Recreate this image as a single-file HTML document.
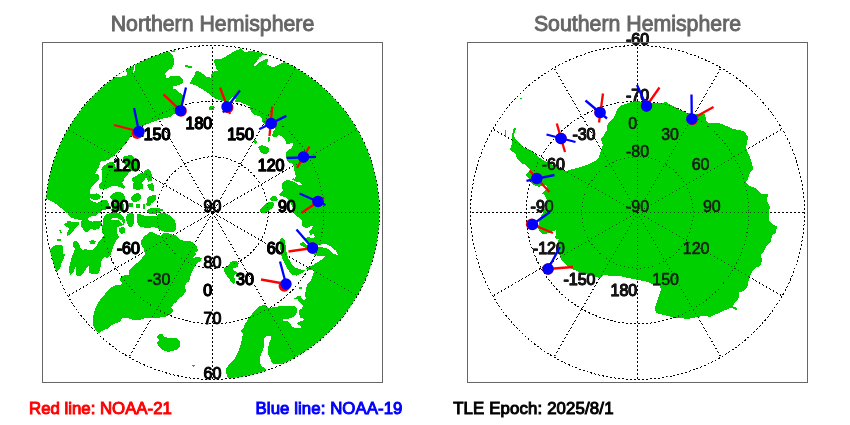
<!DOCTYPE html>
<html><head><meta charset="utf-8"><title>Satellite polar crossings</title>
<style>
html,body{margin:0;padding:0;background:#fff;}
body{width:850px;height:425px;overflow:hidden;font-family:"Liberation Sans",sans-serif;}
svg{display:block;position:absolute;left:0;top:0;}
svg text{font-family:"Liberation Sans",sans-serif;}
.title{font-size:21.3px;fill:#666;stroke:#666;stroke-width:0.9px;text-anchor:middle;}
.lab text{font-size:16px;fill:#000;stroke:#000;stroke-width:1.1px;stroke-linejoin:round;}
.grat2{fill:none;stroke:#000;stroke-opacity:0.6;stroke-width:1;stroke-dasharray:1 3;shape-rendering:crispEdges;}
.lab2 text{font-size:16px;fill:#181818;stroke:#181818;stroke-width:0.55px;}
.grat{fill:none;stroke:#000;stroke-width:1;stroke-dasharray:2 2;shape-rendering:crispEdges;}
.foot{font-size:16.8px;stroke-width:1px;}
</style></head><body>
<svg width="850" height="425" viewBox="0 0 850 425">
<defs>
<clipPath id="cn"><circle cx="212.5" cy="212.5" r="167"/></clipPath>
<clipPath id="cs"><circle cx="637.5" cy="212.5" r="167"/></clipPath>
</defs>
<rect x="0" y="0" width="850" height="425" fill="#fff"/>
<text class="title" x="212.5" y="30.6">Northern Hemisphere</text>
<text class="title" x="637.5" y="30.6">Southern Hemisphere</text>
<g class="grat">
<circle cx="212.5" cy="212.5" r="55.6667"/>
<circle cx="212.5" cy="212.5" r="111.333"/>
<circle cx="212.5" cy="212.5" r="167"/>
<line x1="212.50" y1="212.50" x2="212.50" y2="45.50"/>
<line x1="212.50" y1="212.50" x2="296.00" y2="67.87"/>
<line x1="212.50" y1="212.50" x2="357.13" y2="129.00"/>
<line x1="212.50" y1="212.50" x2="379.50" y2="212.50"/>
<line x1="212.50" y1="212.50" x2="357.13" y2="296.00"/>
<line x1="212.50" y1="212.50" x2="296.00" y2="357.13"/>
<line x1="212.50" y1="212.50" x2="212.50" y2="379.50"/>
<line x1="212.50" y1="212.50" x2="129.00" y2="357.13"/>
<line x1="212.50" y1="212.50" x2="67.87" y2="296.00"/>
<line x1="212.50" y1="212.50" x2="45.50" y2="212.50"/>
<line x1="212.50" y1="212.50" x2="67.87" y2="129.00"/>
<line x1="212.50" y1="212.50" x2="129.00" y2="67.87"/>
<circle cx="637.5" cy="212.5" r="55.6667"/>
<circle cx="637.5" cy="212.5" r="111.333"/>
<circle cx="637.5" cy="212.5" r="167"/>
<line x1="637.50" y1="212.50" x2="637.50" y2="45.50"/>
<line x1="637.50" y1="212.50" x2="721.00" y2="67.87"/>
<line x1="637.50" y1="212.50" x2="782.13" y2="129.00"/>
<line x1="637.50" y1="212.50" x2="804.50" y2="212.50"/>
<line x1="637.50" y1="212.50" x2="782.13" y2="296.00"/>
<line x1="637.50" y1="212.50" x2="721.00" y2="357.13"/>
<line x1="637.50" y1="212.50" x2="637.50" y2="379.50"/>
<line x1="637.50" y1="212.50" x2="554.00" y2="357.13"/>
<line x1="637.50" y1="212.50" x2="492.87" y2="296.00"/>
<line x1="637.50" y1="212.50" x2="470.50" y2="212.50"/>
<line x1="637.50" y1="212.50" x2="492.87" y2="129.00"/>
<line x1="637.50" y1="212.50" x2="554.00" y2="67.87"/>
</g>
<g class="lab">
<text text-anchor="end" x="170.4" y="139.9">-150</text>
<text text-anchor="end" x="139.9" y="170.5">-120</text>
<text text-anchor="end" x="128.7" y="212.2">-90</text>
<text text-anchor="end" x="139.9" y="253.9">-60</text>
<text text-anchor="end" x="170.4" y="284.5">-30</text>
<text text-anchor="end" x="212.2" y="295.7">0</text>
<text text-anchor="end" x="253.9" y="284.5">30</text>
<text text-anchor="end" x="284.5" y="253.9">60</text>
<text text-anchor="end" x="295.7" y="212.2">90</text>
<text text-anchor="end" x="284.5" y="170.5">120</text>
<text text-anchor="end" x="253.9" y="139.9">150</text>
<text text-anchor="end" x="212.2" y="128.7">180</text><text text-anchor="middle" x="212.5" y="212.2">90</text>
<text text-anchor="middle" x="212.5" y="267.9">80</text>
<text text-anchor="middle" x="212.5" y="323.5">70</text>
<text text-anchor="middle" x="212.5" y="379.2">60</text>
<text text-anchor="end" x="595.5" y="284.5">-150</text>
<text text-anchor="end" x="564.9" y="253.9">-120</text>
<text text-anchor="end" x="553.7" y="212.2">-90</text>
<text text-anchor="end" x="564.9" y="170.4">-60</text>
<text text-anchor="end" x="595.5" y="139.9">-30</text>
<text text-anchor="end" x="637.2" y="128.7">0</text>
<text text-anchor="end" x="679.0" y="139.9">30</text>
<text text-anchor="end" x="709.5" y="170.4">60</text>
<text text-anchor="end" x="720.7" y="212.2">90</text>
<text text-anchor="end" x="709.5" y="253.9">120</text>
<text text-anchor="end" x="679.0" y="284.5">150</text>
<text text-anchor="end" x="637.2" y="295.7">180</text><text text-anchor="middle" x="637.5" y="212.2">-90</text>
<text text-anchor="middle" x="637.5" y="156.5">-80</text>
<text text-anchor="middle" x="637.5" y="100.9">-70</text>
<text text-anchor="middle" x="637.5" y="45.2">-60</text>
</g>
<g clip-path="url(#cn)" shape-rendering="crispEdges"><path fill="#00d000" d="M150 20 L169 51 L169 52 L173 56 L174 60 L173.5 65 L172 68.5 L169 69.5 L166.5 72 L165 74 L166.5 77.5 L167.5 78.5 L170 76.5 L175 75.5 L179 75.5 L181 78 L183.5 79.5 L183 82 L182 84 L177 85.5 L172.5 86.5 L173 88.5 L176 89.5 L178 92 L181 93.5 L183 95 L184 98 L183.5 102 L182 105 L183 109 L181 113 L177 113 L172 115 L170 117 L165 118 L160 119.5 L155 121 L150 123 L145 125 L142 126 L138 129 L135 132 L132 135 L129 139 L126 143 L123 146 L120 149.5 L117 152.5 L115 154 L112 157 L108 160 L104 161 L101 160.5 L100 164 L98.5 168 L96 171.5 L95 174 L98 174 L99.5 176.5 L99 180 L96 182 L93 185 L91 188 L90 190 L90.5 194.2 L94 194.2 L96.8 193.2 L99 194.2 L101 196.4 L99.6 198.5 L96.8 199.9 L94.7 200.6 L92.6 199.2 L90.5 198.1 L89 198.8 L91.2 200.6 L94 202.4 L98.2 202.7 L101 200.6 L103.9 199.5 L107.4 200.6 L108.5 203.4 L109.5 204.1 L108.1 207.6 L105.3 209.8 L102 210.5 L100.9 211.7 L98.1 213.5 L96 215.6 L93.2 216.3 L89.6 216.6 L88.2 218.5 L88.2 220.2 L91.8 221.6 L96.7 221.2 L100.9 220.9 L101.6 223.3 L100.2 226.9 L98.1 229 L94.6 229.7 L90.3 229.3 L88.2 231.5 L85.4 231.8 L83.3 229.7 L81.2 226.2 L80.5 223.3 L81.2 221.2 L82.5 219.5 L80.5 220.2 L76.2 219.1 L72 218 L69.2 216.3 L67.8 213.5 L64.2 211 L61 208 L57 204.5 L52 201.5 L46 198.5 L30 196 L20 100Z M124 156 L131 155 L133.5 157.5 L135 160 L138 163 L139.5 167 L138.5 170 L135 171 L131 170.5 L128 168 L125.5 165 L123 162 L123 158.5Z M102.5 166.5 L109 162.5 L114 162 L115 166 L118 170 L125 171.5 L129 171.5 L128 175 L125 177 L124 180 L122 182 L123 184 L125 187 L124 189 L120 187 L115 186 L111 186.5 L107 188.5 L104 189.5 L100 188.5 L98.5 186 L100 183 L102 181 L101.5 177 L102 173 L101.5 169.5Z M132.5 177.9 L132 179.9 L132.1 180.4 L133.9 182.1 L132.6 184.8 L132.5 185.1 L133.5 188.6 L133.9 189 L137.9 190 L138.1 190 L143.1 188.5 L143.4 188.3 L143.5 187.9 L143 185.4 L143 185.3 L141.6 182.2 L144.3 180.4 L144.4 180.2 L145.9 177.2 L145.9 176.7 L143.4 173.2 L142.9 173 L139.9 173.5 L139.7 173.6 L135.8 176.1 L132.8 177.6Z M143.5 172.2 L144.5 175.2 L144.6 175.3 L146.1 177.8 L148.1 181.2 L148.3 181.5 L148.6 181.5 L151.1 181 L151.4 180.8 L151.5 180.6 L152 176.1 L152 175.9 L151 171.9 L150.9 171.6 L148.4 169.1 L148.1 169 L147.7 169.1 L143.7 171.6 L143.5 171.8Z M147.1 185.7 L149.1 189.7 L149.4 190 L152.9 191 L153.2 190.9 L153.5 190.6 L154.5 187.1 L154.4 186.8 L152.4 183.3 L152.2 183 L151.8 183 L147.3 185 L147 185.3Z M130.6 198.3 L132.6 201.3 L133 201.5 L137 201.5 L137.3 201.4 L140.3 199.4 L140.5 199.1 L141 195.6 L140.8 195.1 L138.3 193.1 L137.8 193 L133.8 194.5 L133.6 194.6 L130.6 197.6 L130.5 198Z M146.5 199 L146.5 202.5 L146.6 202.8 L146.9 203 L150.9 203.5 L151.3 203.4 L154.3 201.4 L154.4 201.3 L156.4 198.3 L156.5 197.8 L155.5 195.3 L155.2 195.1 L154.9 195 L149.9 196 L149.7 196.1 L146.7 198.6Z M128.6 203.6 L129.1 206.6 L129.2 206.8 L129.5 206.9 L132.5 206.9 L132.8 206.8 L132.9 206.5 L132.9 203.5 L132.8 203.2 L132.5 203.1 L129 203.1 L128.7 203.2Z M136.1 204.5 L136.1 208 L136.2 208.3 L136.5 208.4 L139 208.4 L139.2 208.3 L139.4 208.1 L140.4 204.6 L140.3 204.3 L140 204.1 L136.5 204.1 L136.2 204.2Z M142.6 204 L142.6 208.5 L142.7 208.8 L143 208.9 L145 208.9 L145.3 208.8 L145.4 208.5 L145.4 204 L145.3 203.7 L145 203.6 L143 203.6 L142.7 203.7Z M146.1 203.1 L146.6 205.6 L146.7 205.8 L147 205.9 L150 205.9 L150.2 205.8 L150.4 205.6 L151.4 203.1 L151.3 202.8 L151 202.6 L146.5 202.6 L146.2 202.7Z M110.1 197.2 L111.5 199.2 L111.6 199.4 L114.4 200.9 L114.5 200.9 L118.1 201.6 L118.2 201.6 L121.7 201.6 L121.8 201.6 L124.6 200.9 L124.8 200.8 L124.9 200.5 L125.3 197 L125.2 196.8 L123.4 193.9 L123.3 193.8 L120.5 192.1 L120.3 192 L116.8 191.6 L116.6 191.7 L113 193.8 L112.9 193.8 L110.1 196.7 L110 197Z M111.6 204 L111.6 208 L111.7 208.3 L114.7 210.8 L115 210.9 L120 211.4 L120.2 211.4 L124.2 209.4 L124.4 209 L124.4 205 L124.2 204.7 L121.2 202.7 L121 202.6 L116 202.1 L115.9 202.1 L111.9 203.6 L111.7 203.8Z M126.6 215 L126.1 219 L126.1 219.1 L127.1 223.1 L127.1 223.2 L128.6 226.7 L128.8 226.8 L129.1 226.9 L132.6 226.4 L132.9 226.1 L133.9 223.1 L133.9 223 L134.4 218 L134.4 217.9 L133.4 213.9 L133.1 213.6 L130.1 212.6 L129.8 212.7 L126.8 214.7Z M147 210 L150 208.5 L155 208 L160 208.5 L164 210 L160 211.5 L157 213.5 L153 214.5 L149 213.5 L147 212Z M161 213 L166 213.5 L171 216 L174.5 220 L176 225 L176 229 L174 232 L170 232.5 L165 232 L161 230.5 L157 228 L153 227 L149 228 L144 227.5 L140 227 L138 224 L136.5 220 L136.5 216 L138 213.5 L142 215 L146 216 L152 216 L156 216.5 L158 214Z M102.3 226.2 L103 221.2 L103.8 217 L106.6 214.2 L110.8 212.8 L116.5 212.4 L120 213.5 L124 217 L125 221 L124 225 L120 226 L117 227 L116.5 229 L117 233 L119 237 L116 241 L114 245 L112 250 L111 254 L110 255 L108 258 L104 257 L102 259 L101 264 L100 270 L98 274 L94 274.5 L89 273 L88.5 270 L89 265 L86 269 L83 274 L79 276.5 L76 275 L76 270 L76.5 265 L75 268 L73 273 L70.5 275 L69 272 L69.5 266 L71 260 L73 254 L75 249 L73 246 L73 242 L76 240.5 L79 243 L80 247 L82 250 L86 249 L90 250.5 L94 249 L97 245 L99 241 L102 238 L104 235 L101.6 231.1Z M118.7 229 L119.2 232 L119.3 232.3 L121.8 233.8 L122.1 233.8 L125.1 232.3 L125.3 232 L125.3 228.5 L125.1 228.2 L122.1 226.7 L121.8 226.8 L118.8 228.8Z M64.2 224 L67 222.6 L66.4 219.8 L68.5 221.2 L72 221.6 L76.2 221.6 L79.8 222.6 L78.3 225.5 L75.5 227.6 L73.4 231.1 L70.6 233.9 L67 236 L67.5 231.8 L69.2 228.3 L66.4 226.9 L64.6 225.5Z M58.5 229.5 L60.5 230 L62.5 233 L60.5 232.5Z M57 239.5 L61 239 L60.5 240.8 L57.5 241Z M89 241.5 L92 240 L96 241 L95 244 L91 244.5Z M40 249 L50 249 L53 246 L58 244.5 L62 245 L63.5 248 L63 254 L65 254 L64 258 L61.5 263 L60.5 267 L60 269 L57 271 L50 273 L40 273Z M141 241 L144 236.5 L149 232.5 L152 232 L157 234.5 L161 236 L162.5 233.5 L167 233 L172 234.5 L176 235.5 L179 239 L183 240.5 L189 240.5 L194 243 L197 247 L198 251 L195 252 L196 254 L193 258 L197 257 L202 258 L201 261 L197 263 L195 266 L193 270 L191 274 L190 279 L188.5 282 L186 283 L185 287 L186 291 L184 294 L183 296 L180 297 L177 301 L176 303.5 L174 303 L173 306 L171 307.5 L172.5 309.5 L173 312 L170 314.5 L166 316.5 L160 317.5 L153 317.5 L146 317.5 L141 319.5 L137 320 L133 320 L128 318 L123 317.5 L121 320 L119 322 L114 324 L111 325.5 L109 328 L103 330.5 L99 333 L96 331 L93 325 L93 317 L95 309 L98 303 L102 297 L104 296 L106 292 L110 288 L115 285.5 L120 285 L122 283 L120 280 L121 277 L125 275 L127 275.5 L129.5 274 L128.5 270.5 L132 267 L137 263 L142 258 L145 254 L144 249 L141.5 245Z M156 337 L159 334 L163 334 L164 337 L170 338 L176 338 L180 342 L180 347 L176 350 L168 352 L162 350 L158 346 L157 342 L160 340Z M192 365.5 L194 364.5 L195 366 L193 367Z M184 66 L186 65 L189 66 L192 65.5 L191.5 67.5 L188 67.5 L185.5 67Z M171 51.5 L174 50.2 L176 50.8 L174 52.5Z M208.6 108.7 L209.1 109.7 L209.3 110 L210.8 110.5 L211.1 110.5 L213.6 110 L213.9 109.7 L214.9 107.7 L215 107.4 L214.8 107.1 L213.3 106.1 L212.9 106 L210.4 106.5 L210.1 106.6 L208.6 108.1 L208.5 108.4Z M267.5 137.5 L269.5 137 L270.5 140 L269 142 L267.5 141Z M253.5 140 L255.5 139.5 L257 142 L256 144 L254 142.5Z M258.2 147.1 L259.2 150.1 L259.3 150.2 L261.3 152.7 L261.4 152.8 L264.4 154.3 L264.6 154.3 L268.1 153.3 L268.3 153.1 L269.3 150.1 L269.3 149.8 L267.8 147.3 L267.6 147.2 L264.6 145.7 L264.5 145.7 L261.5 145.2 L261.4 145.2 L258.4 146.7 L258.2 146.9Z M270.2 198.1 L270.7 200.6 L270.8 200.7 L271 200.8 L274.5 201.3 L274.6 201.3 L277.6 200.3 L277.8 200.1 L277.8 199.9 L276.8 196.9 L276.6 196.7 L273.6 195.7 L273.3 195.8 L270.3 197.8 L270.2 197.9Z M262.3 206.8 L259.3 210.8 L259.2 211 L259.3 211.2 L261.8 213.2 L262 213.3 L266 212.8 L266.2 212.7 L269.2 210.2 L272.7 207.7 L272.8 207.6 L274.3 204.1 L274.3 203.9 L274.2 203.8 L272.2 201.8 L271.9 201.7 L266.9 202.7 L266.8 202.8 L262.3 206.8Z M223.3 268.9 L224.7 272.4 L224.7 272.4 L226.8 275.6 L226.8 275.6 L231 281.2 L231 281.2 L233.1 283.7 L233.4 283.8 L234.9 283.4 L235 283.3 L235 283.2 L234.6 279 L234.3 275.6 L235.6 274.2 L237 273.2 L237.1 273 L237 272.9 L235.6 271.5 L235.6 271.4 L233.5 270.1 L232.9 268.3 L235.5 267.9 L235.6 267.9 L237.7 266.5 L237.8 266.3 L238.5 263.5 L238.5 263.4 L237.1 261.3 L236.9 261.2 L233.3 261.2 L233.2 261.2 L230.4 262.2 L230.3 262.3 L228.9 264.8 L226.2 266.8 L223.4 268.6 L223.3 268.7Z M237.2 275.1 L239.3 274.1 L240.8 275.5 L239 277.6 L237.6 277.2Z M281 238.2 L279.5 240.7 L279.4 241.1 L279.9 246.1 L279.9 246.1 L280.9 253.1 L280.9 253.1 L282.4 259.1 L282.5 259.3 L285.5 265.3 L285.5 265.3 L288.5 270.3 L288.5 270.4 L291.5 274.4 L291.9 274.6 L296.9 275.6 L297.3 275.5 L301.3 273.5 L301.4 273.5 L304.4 271 L304.6 270.6 L304.5 270.1 L304.1 269.9 L300.2 269.4 L295.3 267.5 L291.5 263.6 L288.5 258.7 L286.6 252.9 L285.6 245.9 L285.6 245.9 L284.6 239.9 L284.3 239.5 L281.8 238 L281.4 237.9Z M298.5 287 L301 286.5 L302 288.5 L300.5 289.5 L299 288.5Z M189.5 84 L191 80.5 L193.5 77 L195 74 L196 70.5 L199 71.5 L203 74 L206 76.5 L209 77 L210.5 78.5 L212 72 L216 71 L218.5 71.5 L216.5 69 L215 65 L214 61 L215 58.5 L219 59.5 L223 58 L229 54.5 L235 51 L239 49.5 L240.5 47.5 L242 50 L245 52 L250 51 L255 51.5 L259 52 L264 53.5 L266.5 54.5 L263 55 L259.5 57.5 L257 61 L254.5 64.5 L253.5 66 L256 65.5 L259 62.5 L263 60.5 L267.5 58.5 L268 60.5 L266.5 64.5 L269.5 66 L273 67 L276 66 L280 64 L284 62 L287 61 L300 40 L400 40 L400 390 L281 390 L281 364 L278 364.5 L274 364 L271.5 362 L270 358 L268 354 L268 349 L269 344 L270 341 L271.5 338 L270 335.5 L267 335.5 L264 338 L264 342 L264.5 345 L263 350 L261 354 L259.5 359 L260 363 L262 366.5 L266 369 L266 390 L229 390 L229.5 378.5 L227 376.5 L226 372 L226.5 368 L229 364.5 L233 361 L235.5 357.5 L237 354 L239 350 L241 344 L242 339 L243 333 L240.5 332 L242 329 L244 327 L245 324 L247 321 L249 317 L252 314 L255 310 L258 307 L262 305.5 L265 305 L267.5 306.5 L269 308.5 L274 307 L282 306 L290 306 L295 306.5 L297.5 309 L297 312 L296 315 L293 317 L289 318.5 L285 319 L281.5 320 L284 321 L288 321.5 L290 323.5 L292 326.5 L295 328 L300 328 L301.5 326.5 L299 325 L296 324 L298 322 L302 321 L304 319 L300.5 317.5 L299 314 L299.5 310 L302 308.5 L303 306 L301 304 L298 301 L298 299.5 L294.5 298.5 L298 296 L301 296.5 L302 299 L304.5 300 L306.5 298.5 L305 296 L305.5 292 L306.5 287 L308 283 L309 282 L311 280 L312 277.5 L313 274.5 L314 272 L312 270 L308 270 L306 268.5 L309 267 L313 265 L318 262 L322 259.5 L325 257 L324 255.5 L320 256.5 L315 255 L311 253 L308 250 L304 247 L301 246 L300 243 L303 242 L307 245 L309 243 L307 241 L305 238 L308 237 L312 238 L315 237 L314 234 L310.5 235 L309 232 L311 229.5 L313 226.5 L311 226 L307 228 L303 227 L301.5 224 L302 221 L300 218 L296 216 L293 213 L294 210 L292 206 L290 202 L288 199 L285 197 L281 196 L279 194.5 L281.5 192 L283 190 L281.5 188 L281.5 184 L284 181 L288 180 L292 181 L296 183 L299 185 L301.5 184.5 L299 182 L296 181.5 L292.5 179.5 L293 178 L295 179 L296 176 L295 173 L294 168 L293 164 L289 162.5 L287 160 L286 156 L286 152.5 L288 150 L291.5 148 L293 145 L292.5 142.5 L289 144 L286.5 143.5 L285 140 L283 138 L281 136 L278.5 135 L277 137 L274 137.5 L272 136 L273 132 L275 129 L271 124 L266 126 L264 124 L262 121 L261.5 118 L259 116 L255 115 L252 112.5 L250.5 110 L250 106.5 L247 105 L242 103 L238 101.5 L235 102 L236 99 L233.5 97 L232 97.5 L229 101 L225 101 L221 100.5 L216 99 L212 96.5 L209 93.5 L205 91 L201 88.5 L197 86 L192 84Z"/><path fill="#fff" d="M318 245.2 L325 243.5 L331 246.5 L335.5 250.5 L338 255 L334 254 L330.5 251 L327 248.3 L323 247.5 L318 247.3Z M133.6 65 L135.3 65 L135.2 69 L133.6 73 L132.5 73 L134 69Z M115 77.5 L125 76 L127.2 74.2 L125.8 70.2 L122 70 L113 76Z M111 218.6 L115 218.1 L119 218.7 L122 220.7 L123.6 224 L122.4 224.4 L121 221.9 L118.5 220.1 L115 219.6 L111 220.1Z"/></g>
<g clip-path="url(#cs)" shape-rendering="crispEdges"><path fill="#00d000" d="M513.5 128.5 L516.5 128 L515 131 L514 135 L515 139 L518 142 L522 146 L526 148.5 L530 150 L535 154 L539 157.5 L543 160 L549 163 L555 166.5 L561 169.5 L566 171 L573 169 L581 167 L589 164 L595 161 L599 157 L601 151 L603 145 L601 139 L604 135 L607 130 L607 126 L609 122 L613 119 L615 115 L617 110 L620 106 L625 104 L630 102.5 L636 100.5 L640 101.5 L646 103 L652 102.5 L658 103 L660 103.5 L666 102 L671 105 L676 107.5 L681 110.5 L686 112.5 L691 113.5 L700 113.5 L705 114.5 L706 120 L708 123 L713 122.5 L720 123.5 L728 126.5 L733 129 L739 130 L745 132 L748 137 L747 143 L746 148 L749 155 L752 163 L753 169 L750 173 L748 179 L746 182 L749 186 L755 188 L761 194 L768 194 L767 201 L770 207 L769 212 L769 220 L773 225 L777 226 L776 233 L772 235 L771 242 L767 245 L764 251 L761 255 L762 261 L760 266 L755 268 L752 272 L749 278 L748 285 L746 289 L742 291.5 L738.5 292.5 L739 297 L737 300.5 L734 304 L733 306.5 L736 307.5 L737 309.5 L734.5 309.5 L732 307.5 L728 309 L723 311 L718 313.5 L714 315 L710 317 L705 316 L700 316.5 L695 317.5 L688 319 L680 318 L672 317 L664 315 L656 313 L655 308 L657 302 L659 296 L661 290 L660 285 L652 284 L648 282 L638 280 L628 278 L620 276 L612 276 L604 275 L600 278 L592 276 L582 273 L573 269.5 L567 266 L563 262 L560 257 L559 253 L560 248 L559 245 L558 242 L559 239 L557 239.5 L555 237 L556.5 234 L556 230 L552 231.5 L547 233.5 L543 234 L540 232 L538 228 L539 223 L540 219 L541 215 L543 213 L544 210 L546 205 L547.5 200 L546 198 L545 195 L542 193.5 L544 191 L546 190 L547 187 L546 184.5 L543 185 L539 187 L536 186 L533 184.5 L531 182 L530 179 L527 177 L526 174 L528 172.5 L530 170 L528 167.5 L526 165 L523 164 L520 162 L517 159 L516 155 L513 152 L510 150 L511 146 L512.5 143 L512 138 L512.5 133Z M505 129.5 L506.5 129.5 L506.3 138 L505 137Z M520 98 L521.5 97.6 L521.5 99 L520 99.2Z"/><path fill="#fff" d=""/></g>
<g class="grat2">
<circle cx="212.5" cy="212.5" r="55.6667"/>
<circle cx="212.5" cy="212.5" r="111.333"/>
<circle cx="212.5" cy="212.5" r="167"/>
<line x1="212.50" y1="212.50" x2="212.50" y2="45.50"/>
<line x1="212.50" y1="212.50" x2="296.00" y2="67.87"/>
<line x1="212.50" y1="212.50" x2="357.13" y2="129.00"/>
<line x1="212.50" y1="212.50" x2="379.50" y2="212.50"/>
<line x1="212.50" y1="212.50" x2="357.13" y2="296.00"/>
<line x1="212.50" y1="212.50" x2="296.00" y2="357.13"/>
<line x1="212.50" y1="212.50" x2="212.50" y2="379.50"/>
<line x1="212.50" y1="212.50" x2="129.00" y2="357.13"/>
<line x1="212.50" y1="212.50" x2="67.87" y2="296.00"/>
<line x1="212.50" y1="212.50" x2="45.50" y2="212.50"/>
<line x1="212.50" y1="212.50" x2="67.87" y2="129.00"/>
<line x1="212.50" y1="212.50" x2="129.00" y2="67.87"/>
<circle cx="637.5" cy="212.5" r="55.6667"/>
<circle cx="637.5" cy="212.5" r="111.333"/>
<circle cx="637.5" cy="212.5" r="167"/>
<line x1="637.50" y1="212.50" x2="637.50" y2="45.50"/>
<line x1="637.50" y1="212.50" x2="721.00" y2="67.87"/>
<line x1="637.50" y1="212.50" x2="782.13" y2="129.00"/>
<line x1="637.50" y1="212.50" x2="804.50" y2="212.50"/>
<line x1="637.50" y1="212.50" x2="782.13" y2="296.00"/>
<line x1="637.50" y1="212.50" x2="721.00" y2="357.13"/>
<line x1="637.50" y1="212.50" x2="637.50" y2="379.50"/>
<line x1="637.50" y1="212.50" x2="554.00" y2="357.13"/>
<line x1="637.50" y1="212.50" x2="492.87" y2="296.00"/>
<line x1="637.50" y1="212.50" x2="470.50" y2="212.50"/>
<line x1="637.50" y1="212.50" x2="492.87" y2="129.00"/>
<line x1="637.50" y1="212.50" x2="554.00" y2="67.87"/>
</g>
<g class="lab">
<text text-anchor="end" x="170.4" y="139.9">-150</text>
<text text-anchor="end" x="139.9" y="170.5">-120</text>
<text text-anchor="end" x="128.7" y="212.2">-90</text>
<text text-anchor="end" x="139.9" y="253.9">-60</text>
<text text-anchor="end" x="212.2" y="295.7">0</text>
<text text-anchor="end" x="253.9" y="284.5">30</text>
<text text-anchor="end" x="284.5" y="253.9">60</text>
<text text-anchor="end" x="295.7" y="212.2">90</text>
<text text-anchor="end" x="284.5" y="170.5">120</text>
<text text-anchor="end" x="253.9" y="139.9">150</text>
<text text-anchor="end" x="212.2" y="128.7">180</text>
</g>
<g class="lab2">
<text text-anchor="end" x="170.4" y="284.5">-30</text>
<text text-anchor="end" x="595.5" y="284.5">-150</text>
<text text-anchor="end" x="564.9" y="253.9">-120</text>
<text text-anchor="end" x="553.7" y="212.2">-90</text>
<text text-anchor="end" x="564.9" y="170.4">-60</text>
<text text-anchor="end" x="595.5" y="139.9">-30</text>
<text text-anchor="end" x="637.2" y="128.7">0</text>
<text text-anchor="end" x="679.0" y="139.9">30</text>
<text text-anchor="end" x="709.5" y="170.4">60</text>
<text text-anchor="end" x="720.7" y="212.2">90</text>
<text text-anchor="end" x="709.5" y="253.9">120</text>
<text text-anchor="end" x="679.0" y="284.5">150</text>
<text text-anchor="end" x="637.2" y="295.7">180</text><text text-anchor="middle" x="637.5" y="212.2">-90</text>
<text text-anchor="middle" x="637.5" y="156.5">-80</text>
<text text-anchor="middle" x="637.5" y="100.9">-70</text>
<text text-anchor="middle" x="637.5" y="45.2">-60</text>
</g>
<g fill="none" stroke="#666" stroke-width="1" shape-rendering="crispEdges">
<rect x="42.5" y="42.5" width="340" height="340"/>
<rect x="467.5" y="42.5" width="340" height="340"/>
</g>
<g>
<line x1="114" y1="125" x2="139" y2="131.5" stroke="#f00" stroke-width="2.3"/>
<circle cx="137.2" cy="133.3" r="5.7" fill="#f00"/>
<line x1="134" y1="108" x2="139" y2="131.5" stroke="#00f" stroke-width="2.3"/>
<circle cx="139" cy="131.5" r="5.7" fill="#00f"/>
<line x1="163.5" y1="94.3" x2="180.5" y2="110.6" stroke="#f00" stroke-width="2.3"/>
<circle cx="181.2" cy="111" r="5.7" fill="#f00"/>
<line x1="180.5" y1="110.6" x2="186" y2="87.5" stroke="#00f" stroke-width="2.3"/>
<circle cx="180.5" cy="110.6" r="5.7" fill="#00f"/>
<line x1="220" y1="87.5" x2="230" y2="114" stroke="#f00" stroke-width="2.3"/>
<circle cx="227.8" cy="107.5" r="5.7" fill="#f00"/>
<line x1="240" y1="90.5" x2="223" y2="112.5" stroke="#00f" stroke-width="2.3"/>
<circle cx="227" cy="106.8" r="5.7" fill="#00f"/>
<line x1="272.2" y1="106.7" x2="269.5" y2="136" stroke="#f00" stroke-width="2.3"/>
<circle cx="271.2" cy="123.5" r="5.7" fill="#f00"/>
<line x1="286.3" y1="115.9" x2="259.2" y2="129.3" stroke="#00f" stroke-width="2.3"/>
<circle cx="271.2" cy="123.5" r="5.7" fill="#00f"/>
<line x1="309.5" y1="146.5" x2="297" y2="168" stroke="#f00" stroke-width="2.3"/>
<circle cx="303.5" cy="157" r="5.7" fill="#f00"/>
<line x1="286.5" y1="158" x2="316" y2="156.8" stroke="#00f" stroke-width="2.3"/>
<circle cx="303.5" cy="157" r="5.7" fill="#00f"/>
<line x1="324" y1="197.5" x2="301.5" y2="213" stroke="#f00" stroke-width="2.3"/>
<circle cx="318" cy="201.5" r="5.7" fill="#f00"/>
<line x1="299.5" y1="193.5" x2="325.5" y2="205" stroke="#00f" stroke-width="2.3"/>
<circle cx="318" cy="201.5" r="5.7" fill="#00f"/>
<line x1="288.5" y1="251.5" x2="312.5" y2="248" stroke="#f00" stroke-width="2.3"/>
<circle cx="312.5" cy="248" r="5.7" fill="#f00"/>
<line x1="296.5" y1="229.5" x2="312.5" y2="248" stroke="#00f" stroke-width="2.3"/>
<circle cx="312.5" cy="248" r="5.7" fill="#00f"/>
<line x1="261" y1="279.5" x2="286" y2="284" stroke="#f00" stroke-width="2.3"/>
<circle cx="284.3" cy="286" r="5.7" fill="#f00"/>
<line x1="280" y1="261.5" x2="286" y2="284" stroke="#00f" stroke-width="2.3"/>
<circle cx="286" cy="284" r="5.7" fill="#00f"/>
<line x1="603" y1="93.5" x2="599" y2="122.5" stroke="#f00" stroke-width="2.3"/>
<circle cx="600" cy="112.5" r="5.7" fill="#f00"/>
<line x1="585.5" y1="100.5" x2="607" y2="118.5" stroke="#00f" stroke-width="2.3"/>
<circle cx="600" cy="112.5" r="5.7" fill="#00f"/>
<line x1="659.5" y1="87.5" x2="646.5" y2="106" stroke="#f00" stroke-width="2.3"/>
<circle cx="646.5" cy="106" r="5.7" fill="#f00"/>
<line x1="637" y1="85" x2="646.5" y2="106" stroke="#00f" stroke-width="2.3"/>
<circle cx="646.5" cy="106" r="5.7" fill="#00f"/>
<line x1="713.5" y1="107" x2="691.8" y2="119" stroke="#f00" stroke-width="2.3"/>
<circle cx="692.3" cy="119.5" r="5.7" fill="#f00"/>
<line x1="691.5" y1="94.5" x2="691.8" y2="119" stroke="#00f" stroke-width="2.3"/>
<circle cx="691.8" cy="119" r="5.7" fill="#00f"/>
<line x1="556.8" y1="123.5" x2="565" y2="152" stroke="#f00" stroke-width="2.3"/>
<circle cx="561" cy="138.5" r="5.7" fill="#f00"/>
<line x1="546.5" y1="134.5" x2="575.5" y2="142" stroke="#00f" stroke-width="2.3"/>
<circle cx="561" cy="138.5" r="5.7" fill="#00f"/>
<line x1="529.5" y1="170.5" x2="549.5" y2="192" stroke="#f00" stroke-width="2.3"/>
<circle cx="536.8" cy="178.5" r="5.7" fill="#f00"/>
<line x1="526.5" y1="180.8" x2="554.5" y2="175" stroke="#00f" stroke-width="2.3"/>
<circle cx="536.8" cy="178.5" r="5.7" fill="#00f"/>
<line x1="532.5" y1="224.5" x2="553" y2="233" stroke="#f00" stroke-width="2.3"/>
<circle cx="531.6" cy="224.2" r="5.7" fill="#f00"/>
<line x1="532.5" y1="224.5" x2="550" y2="212" stroke="#00f" stroke-width="2.3"/>
<circle cx="532.5" cy="224.5" r="5.7" fill="#00f"/>
<line x1="548" y1="269" x2="573" y2="267" stroke="#f00" stroke-width="2.3"/>
<circle cx="548" cy="269" r="5.7" fill="#f00"/>
<line x1="548" y1="269" x2="560" y2="247" stroke="#00f" stroke-width="2.3"/>
<circle cx="548" cy="269" r="5.7" fill="#00f"/>
</g>
<text class="foot" x="29.1" y="414" fill="#f00" stroke="#f00">Red line: NOAA-21</text>
<text class="foot" x="255.6" y="414" fill="#00f" stroke="#00f" textLength="146.8" lengthAdjust="spacing">Blue line: NOAA-19</text>
<text class="foot" x="453.2" y="414" fill="#000" stroke="#000" textLength="160.3" lengthAdjust="spacing">TLE Epoch: 2025/8/1</text>
</svg>
</body></html>
